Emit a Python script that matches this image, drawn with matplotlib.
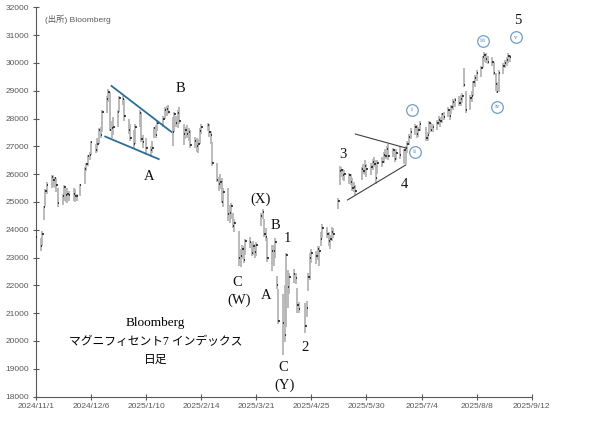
import matplotlib
matplotlib.use("Agg")
import matplotlib.pyplot as plt
import matplotlib.dates as mdates
import pandas as pd

# market holidays inside the range (daily bars skip them)
holidays = ["2024-11-28", "2024-12-25", "2025-01-01", "2025-01-09", "2025-01-20",
            "2025-02-17", "2025-04-18", "2025-05-26", "2025-06-19", "2025-07-04"]

# daily high / low / close, one line per month (Nov 2024 .. Aug 2025)
high = [
    23950, 23700, 23950, 24850, 25450, 25700, 25950, 25950, 25900, 25850, 25500, 25300, 25600, 25500, 25500, 25400, 25500, 25450, 25300, 25650,
    26250, 26400, 26700, 26800, 27200, 27100, 27300, 27650, 27700, 28300, 28800, 29050, 28950, 27900, 28050, 28300, 28800, 28800, 28700, 28000, 27800,
    27600, 27800, 28300, 28250, 27400, 27300, 27000, 27200, 27700, 27750, 27950, 28100, 28400, 28450, 28500, 28050, 28250, 28100, 28300, 28400,
    27800, 27700, 27750, 27650, 27600, 27350, 27300, 27250, 27650, 27800, 27850, 27800, 27550, 27150, 26400, 25900, 26000, 25850, 25500,
    25500, 24900, 24950, 24600, 24400, 23950, 23300, 23450, 23400, 23650, 23750, 23550, 23600, 23500, 23550, 24600, 24750, 24400, 24050, 23700, 23450,
    23450, 23700, 22350, 21850, 21700, 22000, 23150, 22550, 22450, 22600, 22450, 21900, 21400, 21350, 21450, 22450, 23150, 23300, 23250, 23400, 23400,
    23900, 24200, 24100, 23900, 23800, 24100, 24050, 25150, 26300, 26250, 26200, 26150, 26050, 26000, 25850, 25700, 25600, 26250, 26350, 26500, 26350,
    26400, 26550, 26600, 26500, 26500, 26600, 26800, 26900, 27000, 27100, 26950, 26850, 26900, 27000, 26900, 27000, 27200, 27450, 27650, 27800,
    27750, 27700, 27900, 27700, 27500, 27900, 27850, 27800, 27950, 28100, 28050, 28200, 28250, 28400, 28350, 28500, 28700, 28750, 28800, 28850, 28900, 29800,
    29000, 28850, 29000, 29350, 29550, 29750, 29900, 30250, 30400, 30350, 30250, 30200, 30050, 29650, 29300, 29750, 30000, 30100, 30200, 30350, 30300,
]
low = [
    23450, 23250, 23400, 24350, 24850, 25300, 25500, 25550, 25500, 25350, 24800, 24900, 25050, 25000, 24950, 25050, 25050, 25000, 25050, 25200,
    25650, 26100, 26300, 26500, 26700, 26750, 26800, 27100, 27300, 27500, 28200, 28600, 27550, 27300, 27400, 27700, 28250, 28500, 27900, 27450, 27200,
    26950, 27100, 27700, 27150, 26950, 26700, 26600, 26750, 27300, 27300, 27550, 27700, 28000, 28100, 28150, 27000, 27500, 27700, 27650, 27800,
    27050, 27250, 27300, 27200, 26950, 26950, 26800, 26750, 27100, 27450, 27550, 27350, 27100, 26300, 25700, 25400, 25450, 24950, 24800,
    24300, 24250, 24400, 24050, 23900, 22700, 22650, 22950, 22800, 23100, 23350, 23050, 23100, 23000, 23050, 24150, 24400, 23750, 23600, 22850, 22500,
    22700, 23000, 21850, 20600, 19500, 19950, 20500, 21200, 21700, 22100, 22050, 21000, 21000, 20300, 20850, 21800, 22200, 22800, 22750, 22900, 22700,
    23400, 23700, 23700, 23400, 23300, 23600, 23700, 24750, 25600, 25900, 25800, 25750, 25650, 25600, 25400, 25350, 25250, 25800, 26000, 25950, 25900,
    25950, 26150, 26250, 25650, 26000, 26250, 26400, 26550, 26550, 26500, 26600, 26450, 26500, 26550, 26350, 26350, 26750, 27050, 27250, 27400,
    27300, 27350, 27550, 27200, 27200, 27450, 27500, 27500, 27600, 27750, 27700, 27850, 27950, 28050, 27950, 28150, 28300, 28400, 28450, 28450, 28550, 29150,
    28200, 28300, 28600, 28800, 29150, 29350, 29500, 29800, 30050, 30000, 29950, 29900, 29550, 29000, 28900, 28950, 29600, 29800, 29900, 30000, 30050,
]
close = [
    23750, 23400, 23850, 24800, 25400, 25600, 25900, 25800, 25850, 25600, 24950, 25200, 25550, 25250, 25300, 25250, 25300, 25200, 25200, 25600,
    26200, 26350, 26650, 26700, 27150, 26850, 27100, 27600, 27400, 28250, 28700, 28950, 27600, 27650, 27700, 28250, 28750, 28700, 28100, 27600, 27300,
    27100, 27700, 28200, 27250, 27150, 26950, 26850, 26950, 27650, 27400, 27850, 28000, 28300, 28350, 28250, 27500, 28150, 27850, 28200, 27900,
    27450, 27600, 27450, 27500, 27050, 27200, 27000, 27100, 27550, 27700, 27750, 27500, 27400, 26400, 25800, 25650, 25700, 25000, 25350,
    24550, 24600, 24850, 24150, 24250, 23000, 23050, 23300, 22900, 23600, 23550, 23150, 23400, 23200, 23450, 24500, 24650, 23850, 23750, 23000, 23250,
    23250, 23550, 22000, 20700, 20650, 20200, 23100, 21950, 22300, 22400, 22250, 21300, 21150, 20550, 21200, 22300, 23000, 23150, 23050, 23300, 23250,
    23650, 24050, 23850, 23600, 23650, 23900, 23850, 25050, 26100, 26150, 25950, 26000, 25950, 25700, 25500, 25550, 25400, 26200, 26100, 26300, 26200,
    26250, 26450, 26350, 25850, 26400, 26450, 26700, 26650, 26900, 26650, 26850, 26550, 26750, 26700, 26850, 26950, 27100, 27350, 27500, 27700,
    27450, 27600, 27800, 27300, 27400, 27850, 27600, 27700, 27850, 27950, 27900, 28150, 28050, 28300, 28100, 28400, 28600, 28650, 28550, 28700, 28800, 29200,
    28300, 28750, 28800, 29300, 29450, 29650, 29800, 30200, 30300, 30150, 30050, 30050, 29650, 29250, 28950, 29650, 29900, 30000, 30100, 30250, 30200,
]

# hand-drawn trend lines: (start date, start price, end date, end price)
wedge_lines = [("2024-12-19", 29170, "2025-01-26", 27520),
               ("2024-12-15", 27350, "2025-01-18", 26540)]
triangle_lines = [("2025-05-23", 27440, "2025-06-24", 26940),
                  ("2025-05-18", 25070, "2025-06-24", 26330)]

# wave labels
wave_labels = [("B", "2025-02-01", 29070), ("A", "2025-01-12", 25930),
               ("(X)", "2025-03-24", 25090), ("B", "2025-04-02", 24140),
               ("1", "2025-04-10", 23690), ("C", "2025-03-09", 22100),
               ("(W)", "2025-03-10", 21460), ("A", "2025-03-27", 21620),
               ("2", "2025-04-21", 19770), ("C", "2025-04-07", 19040),
               ("(Y)", "2025-04-08", 18390), ("3", "2025-05-15", 26690),
               ("4", "2025-06-23", 25610), ("5", "2025-09-03", 31510)]
sub_waves = [("i", "2025-06-28", 28310), ("ii", "2025-06-30", 26800),
             ("iii", "2025-08-12", 30790), ("iv", "2025-08-21", 28420),
             ("v", "2025-09-02", 30920)]

dates = pd.bdate_range("2024-11-01", "2025-08-29", freq="C", holidays=holidays)
n = min(len(dates), len(close))
x = mdates.date2num(dates[:n])

fig = plt.figure(figsize=(6.04, 4.24), dpi=100)
ax = fig.add_axes([36 / 604, 1 - 396.5 / 424, (531.7 - 36) / 604, (396.5 - 7.3) / 424])

ax.vlines(x, low[:n], high[:n], color="#b4b4b4", lw=1.3, zorder=2)
ax.hlines(close[:n], x, x + 0.9, color="#111111", lw=1.1, zorder=3)

for d0, p0, d1, p1 in wedge_lines:
    ax.plot(mdates.date2num(pd.to_datetime([d0, d1])), [p0, p1], color="#2b6e96", lw=1.3, zorder=4)
for d0, p0, d1, p1 in triangle_lines:
    ax.plot(mdates.date2num(pd.to_datetime([d0, d1])), [p0, p1], color="#404040", lw=0.8, zorder=4)

serif = ["Liberation Serif", "Noto Sans CJK JP"]
for txt, d, p in wave_labels:
    ax.text(mdates.date2num(pd.Timestamp(d)), p, txt, ha="center", va="center",
            fontsize=10.5, family=serif, color="#111111")

# circled sub-wave numerals, all circles the same size
sx = mdates.date2num(pd.to_datetime([s[1] for s in sub_waves]))
sy = [s[2] for s in sub_waves]
ax.scatter(sx, sy, s=70, marker="o", facecolor="white", edgecolor="#6f9fc8", lw=0.9, zorder=5)
for (txt, d, p), xx in zip(sub_waves, sx):
    ax.text(xx, p, txt, ha="center", va="center", fontsize=5,
            family="Liberation Serif", color="#4f86b5", zorder=6)

ax.text(mdates.date2num(pd.Timestamp("2025-01-16")), 20630, "Bloomberg",
        ha="center", va="center", fontsize=9.5, family=serif)
ax.text(mdates.date2num(pd.Timestamp("2025-01-16")), 19970, "マグニフィセント7 インデックス",
        ha="center", va="center", fontsize=8.5, family=serif)
ax.text(mdates.date2num(pd.Timestamp("2025-01-16")), 19310, "日足",
        ha="center", va="center", fontsize=8.5, family=serif)
ax.text(mdates.date2num(pd.Timestamp("2024-11-07")), 31570, "(出所) Bloomberg",
        ha="left", va="center", fontsize=6, family=["Liberation Sans", "Noto Sans CJK JP"],
        color="#595959")

# axes
tick_dates = pd.date_range("2024-11-01", "2025-09-12", freq="35D")
ax.set_xlim(mdates.date2num(tick_dates[0]), mdates.date2num(tick_dates[-1]))
ax.set_ylim(18000, 32000)
ax.set_xticks(mdates.date2num(tick_dates))
ax.set_xticklabels([f"{t.year}/{t.month}/{t.day}" for t in tick_dates])
ax.set_yticks(range(18000, 32001, 1000))
ax.set_yticklabels([str(v) for v in range(18000, 32001, 1000)])

for s in ["top", "right"]:
    ax.spines[s].set_visible(False)
for s in ["left", "bottom"]:
    ax.spines[s].set_color("#595959")
    ax.spines[s].set_linewidth(0.8)
ax.tick_params(direction="inout", length=5, width=0.8, color="#595959",
               labelsize=6, labelcolor="#595959", pad=2.5)
for lab in ax.get_xticklabels() + ax.get_yticklabels():
    lab.set_family("Liberation Sans")

fig.savefig("out.png", dpi=100)
